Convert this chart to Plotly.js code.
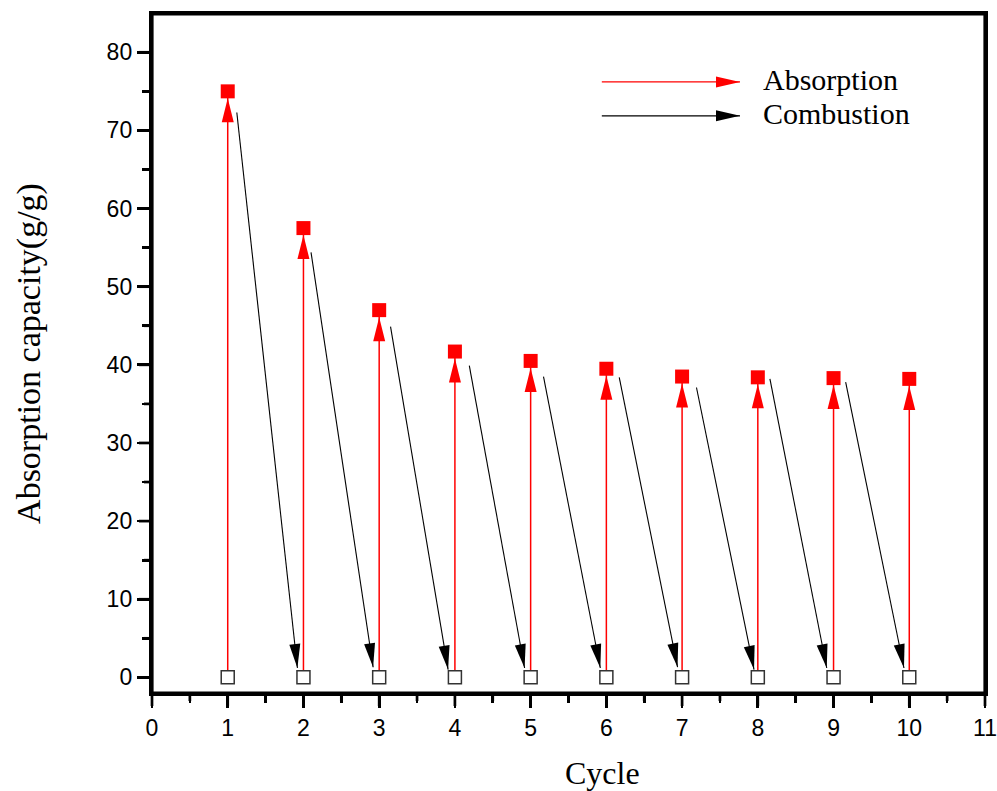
<!DOCTYPE html>
<html>
<head>
<meta charset="utf-8">
<script src="https://cdn.plot.ly/plotly-3.0.1.min.js"></script>
<style>html,body{margin:0;padding:0;background:#fff;}#chart{width:997px;height:791px;}</style>
</head>
<body>
<div id="chart"></div>
<script>
// ---- data ----
const cycles = [1, 2, 3, 4, 5, 6, 7, 8, 9, 10];
const absorption = [75, 57.5, 47, 41.7, 40.5, 39.5, 38.5, 38.4, 38.3, 38.2];
const afterCombustion = [0, 0, 0, 0, 0, 0, 0, 0, 0, 0];
// combustion arrows (start / end points)
const combStartX = [1.12, 2.10, 3.15, 4.19, 5.17, 6.17, 7.19, 8.16, 9.16];
const combStartY = [72.3, 54.4, 44.9, 39.9, 38.5, 38.4, 37.1, 38.2, 37.8];
const combEndX = [1.92, 2.92, 3.91, 4.92, 5.92, 6.94, 7.95, 8.91, 9.93];
const combEndY = [1.2, 1.3, 1.0, 1.2, 1.2, 1.3, 1.0, 1.2, 1.2];
const xTicks = [0, 1, 2, 3, 4, 5, 6, 7, 8, 9, 10, 11];
const yTicks = [0, 10, 20, 30, 40, 50, 60, 70, 80];
const legendLabels = ['Absorption', 'Combustion'];
const xTitle = 'Cycle';
const yTitle = 'Absorption capacity(g/g)';

// ---- layout geometry ----
const W = 997, H = 791;
const margin = {l: 152, r: 12, t: 14, b: 98, pad: 0};
const plotW = W - margin.l - margin.r, plotH = H - margin.t - margin.b;
const xRange = [0, 11];
const yRange = [-2, 84.9];
const sx = plotW / (xRange[1] - xRange[0]);
const sy = plotH / (yRange[1] - yRange[0]);
const xMinor = xTicks.slice(0, -1).map(v => v + 0.5);
const yMinor = yTicks.slice(0, -1).map(v => v + 5);
const xPaper = v => (v - xRange[0]) / (xRange[1] - xRange[0]);
const yPaper = v => (v - yRange[0]) / (yRange[1] - yRange[0]);

const serif = 'Liberation Serif, Times New Roman, serif';
const sans = 'Liberation Sans, Arial, sans-serif';

// triangle path (pixels, y up), tip moved back by `back` px, pointing along unit vector (ux,uy)
function headPath(ux, uy, len, wid, back) {
  const tx = -ux * back, ty = -uy * back;
  const bx = tx - ux * len, by = ty - uy * len;
  const px = -uy * wid / 2, py = ux * wid / 2;
  return `M${tx},${ty} L${bx + px},${by + py} L${bx - px},${by - py} Z`;
}

const shapes = [];
// plot frame
shapes.push({type: 'rect', xref: 'paper', yref: 'paper', x0: 0, x1: 1, y0: 0, y1: 1,
  line: {color: '#000', width: 3.2}, fillcolor: 'rgba(0,0,0,0)', layer: 'above'});
// bold outside tick marks (paper-referenced so they are not clipped to the plot area)
const tickW = 2.7, majLen = 13, minLen = 8;
xTicks.forEach(v => shapes.push({type: 'line', xref: 'paper', yref: 'paper',
  x0: xPaper(v), x1: xPaper(v), y0: 0, y1: -majLen / plotH, line: {color: '#000', width: tickW}}));
xMinor.forEach(v => shapes.push({type: 'line', xref: 'paper', yref: 'paper',
  x0: xPaper(v), x1: xPaper(v), y0: 0, y1: -minLen / plotH, line: {color: '#000', width: tickW}}));
yTicks.forEach(v => shapes.push({type: 'line', xref: 'paper', yref: 'paper',
  y0: yPaper(v), y1: yPaper(v), x0: 0, x1: -majLen / plotW, line: {color: '#000', width: tickW}}));
yMinor.forEach(v => shapes.push({type: 'line', xref: 'paper', yref: 'paper',
  y0: yPaper(v), y1: yPaper(v), x0: 0, x1: -minLen / plotW, line: {color: '#000', width: tickW}}));
// absorption arrows (red, vertical)
cycles.forEach((c, i) => {
  shapes.push({type: 'line', xref: 'x', yref: 'y', x0: c, x1: c, y0: afterCombustion[i], y1: absorption[i],
    line: {color: '#ff0000', width: 1.5}, layer: 'below'});
  shapes.push({type: 'path', xref: 'x', yref: 'y', xsizemode: 'pixel', ysizemode: 'pixel',
    xanchor: c, yanchor: absorption[i], path: headPath(0, 1, 24, 12, 7),
    fillcolor: '#ff0000', line: {width: 0}, layer: 'above'});
});
// combustion arrows (black, slanted)
combStartX.forEach((x0, i) => {
  const dx = (combEndX[i] - x0) * sx, dy = (combEndY[i] - combStartY[i]) * sy;
  const n = Math.hypot(dx, dy);
  shapes.push({type: 'line', xref: 'x', yref: 'y', x0: x0, y0: combStartY[i], x1: combEndX[i], y1: combEndY[i],
    line: {color: '#000000', width: 1.1}, layer: 'below'});
  shapes.push({type: 'path', xref: 'x', yref: 'y', xsizemode: 'pixel', ysizemode: 'pixel',
    xanchor: combEndX[i], yanchor: combEndY[i], path: headPath(dx / n, dy / n, 24, 11, 0),
    fillcolor: '#000000', line: {width: 0}, layer: 'above'});
});
// legend arrows
const legendColors = ['#ff0000', '#000000'];
const legendY = [0.900, 0.850];
const legX0 = 0.540, legX1 = 0.7059;
legendLabels.forEach((lab, i) => {
  shapes.push({type: 'line', xref: 'paper', yref: 'paper', x0: legX0, x1: legX1, y0: legendY[i], y1: legendY[i],
    line: {color: legendColors[i], width: 1.3}});
  shapes.push({type: 'path', xref: 'paper', yref: 'paper', xsizemode: 'pixel', ysizemode: 'pixel',
    xanchor: legX1, yanchor: legendY[i], path: headPath(1, 0, 24, 11, 0),
    fillcolor: legendColors[i], line: {width: 0}});
});

const annotations = legendLabels.map((lab, i) => ({
  xref: 'paper', yref: 'paper', x: 0.7315, y: legendY[i] + 0.004, xanchor: 'left', yanchor: 'middle',
  text: lab, showarrow: false, font: {family: serif, size: 30, color: '#000'}
}));
// x-axis title (placed right of centre as in the reference)
annotations.push({xref: 'paper', yref: 'paper', x: 0.5414, y: -0.1185, xanchor: 'center', yanchor: 'middle',
  text: xTitle, showarrow: false, font: {family: serif, size: 32, color: '#000'}});

const traces = [
  {x: cycles, y: afterCombustion, type: 'scatter', mode: 'markers', name: 'after combustion',
   marker: {symbol: 'square', size: 13, color: '#ffffff', line: {color: '#333333', width: 1.5}}, cliponaxis: false},
  {x: cycles, y: absorption, type: 'scatter', mode: 'markers', name: 'absorption',
   marker: {symbol: 'square', size: 14, color: '#ff0000', line: {color: '#ff0000', width: 0}}, cliponaxis: false}
];

const axisCommon = {
  showgrid: false, zeroline: false, showline: true, mirror: true, linecolor: '#000', linewidth: 3.2,
  ticks: 'outside', ticklen: 12, tickwidth: 2.7, tickcolor: '#000',
  tickfont: {family: sans, size: 23, color: '#000'}
};

const layout = {
  width: W, height: H, margin: margin, showlegend: false,
  paper_bgcolor: '#fff', plot_bgcolor: '#fff',
  xaxis: Object.assign({}, axisCommon, {
    range: xRange, tickvals: xTicks, ticktext: xTicks.map(String),
    minor: {tickvals: xMinor, ticks: 'outside', ticklen: 7, tickwidth: 2.7, tickcolor: '#000'}
  }),
  yaxis: Object.assign({}, axisCommon, {
    range: yRange, tickvals: yTicks, ticktext: yTicks.map(String),
    minor: {tickvals: yMinor, ticks: 'outside', ticklen: 7, tickwidth: 2.7, tickcolor: '#000'},
    title: {text: yTitle, font: {family: serif, size: 34, color: '#000'}, standoff: 56}
  }),
  shapes: shapes,
  annotations: annotations
};

Plotly.newPlot('chart', traces, layout, {displayModeBar: false, staticPlot: true});
</script>
</body>
</html>
